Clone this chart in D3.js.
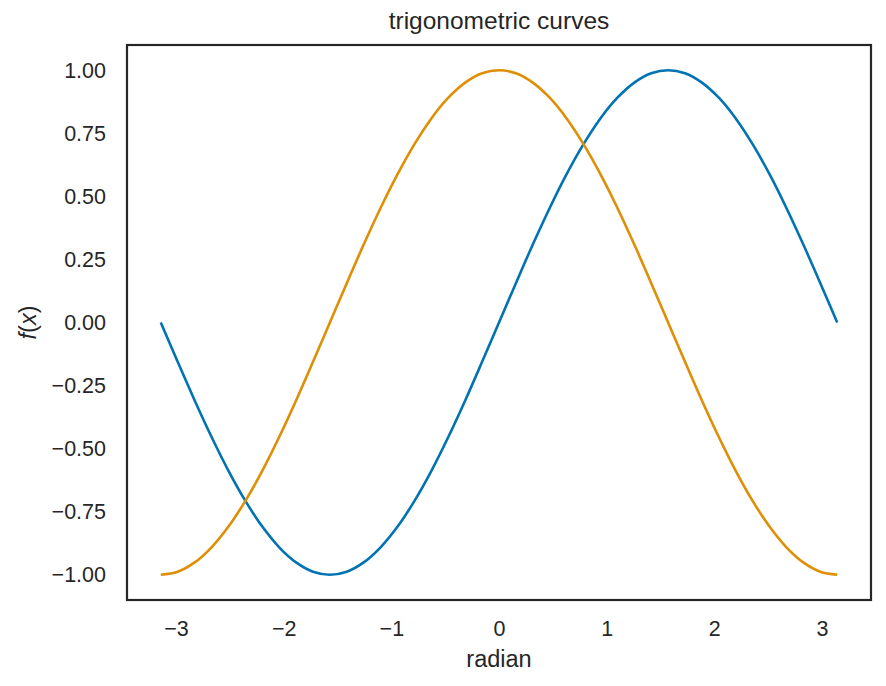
<!DOCTYPE html>
<html><head><meta charset="utf-8">
<script src="https://cdn.jsdelivr.net/npm/d3@7"></script>
<style>body{margin:0;background:#fff;} text{font-family:"Liberation Sans",Arial,sans-serif;fill:#262626;}</style>
</head><body>
<svg id="c" width="886" height="686"></svg>
<script>
const xValues = [-3.142,-2.985,-2.827,-2.670,-2.513,-2.356,-2.199,-2.042,-1.885,-1.728,-1.571,-1.414,-1.257,-1.100,-0.942,-0.785,-0.628,-0.471,-0.314,-0.157,0,0.157,0.314,0.471,0.628,0.785,0.942,1.100,1.257,1.414,1.571,1.728,1.885,2.042,2.199,2.356,2.513,2.670,2.827,2.985,3.142];
const sinValues = [0,-0.156,-0.309,-0.454,-0.588,-0.707,-0.809,-0.891,-0.951,-0.988,-1.0,-0.988,-0.951,-0.891,-0.809,-0.707,-0.588,-0.454,-0.309,-0.156,0,0.156,0.309,0.454,0.588,0.707,0.809,0.891,0.951,0.988,1.0,0.988,0.951,0.891,0.809,0.707,0.588,0.454,0.309,0.156,0];
const cosValues = [-1,-0.988,-0.951,-0.891,-0.809,-0.707,-0.588,-0.454,-0.309,-0.156,0,0.156,0.309,0.454,0.588,0.707,0.809,0.891,0.951,0.988,1,0.988,0.951,0.891,0.809,0.707,0.588,0.454,0.309,0.156,0,-0.156,-0.309,-0.454,-0.588,-0.707,-0.809,-0.891,-0.951,-0.988,-1];
const xTicks = [-3,-2,-1,0,1,2,3];
const yTicks = [-1.00,-0.75,-0.50,-0.25,0.00,0.25,0.50,0.75,1.00];
const seriesColors = ["#0173b2","#de8f05"];

const L=127, R=871, T=45, B=600;
const FONT = '"Liberation Sans",Arial,sans-serif';
const svg = d3.select("#c");
const x = d3.scaleLinear().domain([-3.4558, 3.4558]).range([L, R]);
const y = d3.scaleLinear().domain([-1.1, 1.1]).range([B, T]);
const fmtMinus = s => s.replace("-", "\u2212");

const xAxis = svg.append("g").attr("transform", `translate(0,${B})`)
  .call(d3.axisBottom(x).tickValues(xTicks).tickSize(0).tickPadding(0).tickFormat(d => fmtMinus(d3.format("d")(d))));
xAxis.select(".domain").remove();
xAxis.attr("font-size", null).attr("font-family", null);
xAxis.selectAll("text").attr("font-size", "21.5px").style("font-family", FONT).attr("fill", "#262626").attr("dy", null).attr("y", 36);

const yAxis = svg.append("g").attr("transform", `translate(${L},0)`)
  .call(d3.axisLeft(y).tickValues(yTicks).tickSize(0).tickPadding(21).tickFormat(d => fmtMinus(d3.format(".2f")(d))));
yAxis.select(".domain").remove();
yAxis.attr("font-size", null).attr("font-family", null);
yAxis.selectAll("text").attr("font-size", "21.5px").style("font-family", FONT).attr("fill", "#262626");

const line = d3.line().x(d => x(d[0])).y(d => y(d[1])).curve(d3.curveCatmullRom);
[sinValues, cosValues].forEach((vals, i) => {
  svg.append("path").datum(xValues.map((xv, j) => [xv, vals[j]]))
    .attr("d", line).attr("fill", "none").attr("stroke", seriesColors[i]).attr("stroke-width", 2.6);
});

svg.append("rect").attr("x", L).attr("y", T).attr("width", R - L).attr("height", B - T)
  .attr("fill", "none").attr("stroke", "#262626").attr("stroke-width", 2.2);

svg.append("text").attr("x", (L + R) / 2).attr("y", 29).attr("text-anchor", "middle").attr("font-size", "24.5px").text("trigonometric curves");
svg.append("text").attr("x", (L + R) / 2).attr("y", 667).attr("text-anchor", "middle").attr("font-size", "23.5px").text("radian");
const yl = svg.append("text").attr("transform", `translate(36,${(T + B) / 2}) rotate(-90)`).attr("text-anchor", "middle").attr("font-size", "23.5px");
yl.append("tspan").attr("font-style", "italic").text("f");
yl.append("tspan").text("(");
yl.append("tspan").attr("font-style", "italic").text("x");
yl.append("tspan").text(")");
</script>
</body></html>
